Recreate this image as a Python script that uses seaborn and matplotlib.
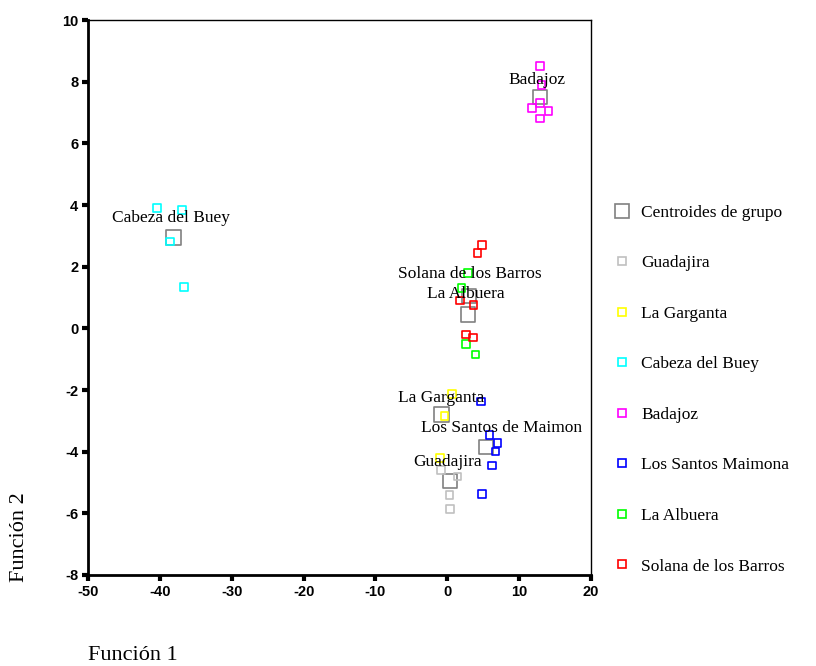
import matplotlib
matplotlib.use("Agg")
import matplotlib.pyplot as plt
from matplotlib.lines import Line2D
import pandas as pd
import seaborn as sns

# discriminant scores per group (Función 1, Función 2)
groups = ["Guadajira", "La Garganta", "Cabeza del Buey", "Badajoz",
          "Los Santos Maimona", "La Albuera", "Solana de los Barros"]
colors = ["#c0c0c0", "#ffff00", "#00ffff", "#ff00ff", "#0000ff", "#00ff00", "#ff0000"]

guadajira_x = [-0.9, 1.4, 0.3, 0.4]
guadajira_y = [-4.6, -4.8, -5.4, -5.85]
garganta_x = [0.65, -0.4, -1.05]
garganta_y = [-2.12, -2.85, -4.2]
cabeza_x = [-40.4, -36.9, -38.6, -36.6]
cabeza_y = [3.9, 3.83, 2.82, 1.35]
badajoz_x = [12.9, 13.1, 11.8, 12.9, 14.1, 12.9]
badajoz_y = [8.5, 7.9, 7.15, 7.3, 7.05, 6.8]
santos_x = [4.7, 5.9, 7.0, 6.7, 6.2, 4.8]
santos_y = [-2.37, -3.45, -3.72, -4.0, -4.45, -5.37]
albuera_x = [2.9, 2.0, 2.6, 3.9]
albuera_y = [1.8, 1.3, -0.5, -0.85]
solana_x = [4.8, 4.2, 1.8, 3.65, 2.6, 3.6]
solana_y = [2.7, 2.45, 0.9, 0.75, -0.2, -0.3]

# group centroids and their labels
centroid_x = [0.4, -0.8, -38.1, 12.9, 5.4, 2.9, 3.0]
centroid_y = [-4.95, -2.8, 2.95, 7.5, -3.85, 0.45, 1.05]
centroid_labels = ["Guadajira", "La Garganta", "Cabeza del Buey", "Badajoz",
                   "Los Santos de Maimon", "La Albuera", "Solana de los Barros"]
label_x = [0.0, -0.8, -38.5, 12.5, 7.6, 2.6, 3.1]
label_y = [-4.35, -2.27, 3.57, 8.07, -3.24, 1.1, 1.75]

xs = [guadajira_x, garganta_x, cabeza_x, badajoz_x, santos_x, albuera_x, solana_x]
ys = [guadajira_y, garganta_y, cabeza_y, badajoz_y, santos_y, albuera_y, solana_y]
df = pd.DataFrame({
    "f1": sum(xs, []),
    "f2": sum(ys, []),
    "grupo": sum([[g] * len(x) for g, x in zip(groups, xs)], []),
})
cent = pd.DataFrame({"f1": centroid_x, "f2": centroid_y})

sns.set_style("white")
plt.rcParams["font.family"] = ["Liberation Serif", "DejaVu Serif"]
plt.rcParams["axes.unicode_minus"] = False
plt.rcParams["text.color"] = "black"

fig = plt.figure(figsize=(8.16, 6.66), dpi=100)
ax = fig.add_axes([88 / 816, 91 / 666, 503 / 816, 555 / 666])

sns.scatterplot(data=cent, x="f1", y="f2", marker="s", s=110, color="#808080",
                legend=False, ax=ax, zorder=2)
sns.scatterplot(data=df, x="f1", y="f2", hue="grupo", hue_order=groups,
                palette=colors, marker="s", s=30, legend=False, ax=ax, zorder=3)

# hollow squares
for pc in ax.collections:
    fc = pc.get_facecolors()
    pc.set_edgecolors(fc)
    pc.set_facecolors("none")
    pc.set_linewidths(1.2)

for t, lx, ly in zip(centroid_labels, label_x, label_y):
    ax.text(lx, ly, t, ha="center", va="center", fontsize=12.5, color="black", zorder=5)

ax.set_xlim(-50, 20)
ax.set_ylim(-8, 10)
ax.set_xticks(range(-50, 21, 10))
ax.set_yticks(range(-8, 11, 2))
ax.set_xlabel("")
ax.set_ylabel("")
for lab in ax.get_xticklabels() + ax.get_yticklabels():
    lab.set_family(["Liberation Sans", "DejaVu Sans"])
    lab.set_fontsize(10.5)
    lab.set_fontweight("bold")
ax.tick_params(bottom=True, left=True, direction="out", length=4, width=3,
               color="black", labelcolor="black", pad=3)
for side, sp in ax.spines.items():
    sp.set_color("black")
    sp.set_linewidth(2 if side in ("left", "bottom") else 1)

handles = [Line2D([], [], marker="s", ls="none", mfc="none", mec="#808080",
                  ms=10, mew=1.2, label="Centroides de grupo")]
for g, c in zip(groups, colors):
    handles.append(Line2D([], [], marker="s", ls="none", mfc="none", mec=c,
                          ms=5.5, mew=1.2, label=g))
fig.legend(handles=handles, loc="upper left", bbox_to_anchor=(605 / 816, 1 - 196 / 666),
           frameon=False, fontsize=12.5, labelspacing=1.98, handletextpad=0.6,
           handlelength=1.0, borderpad=0, labelcolor="black")

fig.text(88 / 816, 1 - 655 / 666, "Función 1", fontsize=16, ha="left", va="center")
fig.text(20 / 816, 1 - 537 / 666, "Función 2", fontsize=16, ha="center", va="center",
         rotation=90)

fig.savefig("out.png", dpi=100)
